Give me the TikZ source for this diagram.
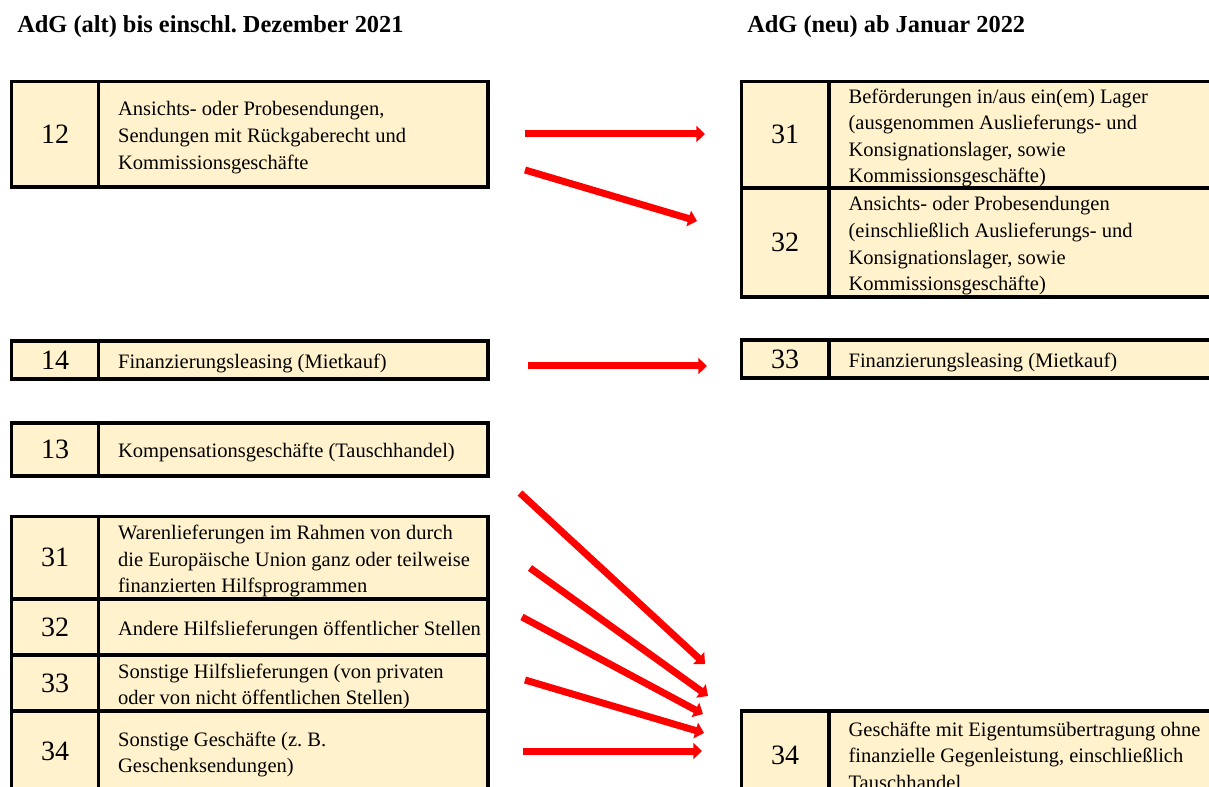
\documentclass[tikz,border=0pt]{standalone}
\usepackage{fontspec}
\setmainfont{Liberation Serif}
\usepackage{tikz}
\usetikzlibrary{arrows.meta}
\definecolor{zelle}{HTML}{FFF2CC}
\definecolor{pfeil}{HTML}{FF0000}
\frenchspacing

\begin{document}
\begin{tikzpicture}[x=0.75pt, y=-0.75pt]
	\path[use as bounding box, clip] (0,0) rectangle (1209,787);
	% Ueberschriften
	\begin{scope}[every node/.style = {anchor=west, inner sep=0pt,
			font=\bfseries\fontsize{18.3}{22}\selectfont}]
		\node (alt) at (17,27) {AdG (alt) bis einschl. Dezember 2021};
		\node (neu) at (747,27) {AdG (neu) ab Januar 2022};
	\end{scope}
	% Zellen
	\begin{scope}[every node/.style = {draw=black, line width=2.6pt, fill=zelle,
			anchor=north west, inner sep=0pt, outer sep=0pt,
			font=\fontsize{21}{25}\selectfont}]
		\node[minimum width=65.25pt, minimum height=79.1pt] (L12) at (11.5,81.5) {12};
		\node[minimum width=292.1pt, minimum height=79.1pt] (L12f) at (98.5,81.5) {};
		\node[minimum width=65.25pt, minimum height=28.5pt] (L14) at (11.5,341) {14};
		\node[minimum width=292.1pt, minimum height=28.5pt] (L14f) at (98.5,341) {};
		\node[minimum width=65.25pt, minimum height=39.75pt] (L13) at (11.5,423) {13};
		\node[minimum width=292.1pt, minimum height=39.75pt] (L13f) at (98.5,423) {};
		\node[minimum width=65.25pt, minimum height=61.9pt] (L31) at (11.5,516.5) {31};
		\node[minimum width=292.1pt, minimum height=61.9pt] (L31f) at (98.5,516.5) {};
		\node[minimum width=65.25pt, minimum height=42pt] (L32) at (11.5,599) {32};
		\node[minimum width=292.1pt, minimum height=42pt] (L32f) at (98.5,599) {};
		\node[minimum width=65.25pt, minimum height=42pt] (L33) at (11.5,655) {33};
		\node[minimum width=292.1pt, minimum height=42pt] (L33f) at (98.5,655) {};
		\node[minimum width=65.25pt, minimum height=60pt] (L34) at (11.5,711) {34};
		\node[minimum width=292.1pt, minimum height=60pt] (L34f) at (98.5,711) {};
		\node[minimum width=65.6pt, minimum height=79.9pt] (R31) at (741.5,81.5) {31};
		\node[minimum width=300.75pt, minimum height=79.9pt] (R31f) at (829,81.5) {};
		\node[minimum width=65.6pt, minimum height=81.75pt] (R32) at (741.5,188) {32};
		\node[minimum width=300.75pt, minimum height=81.75pt] (R32f) at (829,188) {};
		\node[minimum width=65.6pt, minimum height=28.5pt] (R33) at (741.5,340) {33};
		\node[minimum width=300.75pt, minimum height=28.5pt] (R33f) at (829,340) {};
		\node[minimum width=65.6pt, minimum height=66.75pt] (R34) at (741.5,711) {34};
		\node[minimum width=300.75pt, minimum height=66.75pt] (R34f) at (829,711) {};
	\end{scope}
	% Texte
	\begin{scope}[every node/.style = {anchor=west, align=left, inner sep=0pt,
			xshift=14.5pt, yshift=-2.5pt, font=\fontsize{15.4}{19.9}\selectfont}]
		\node (L12t) at (L12f.west) {Ansichts- oder Probesendungen,\\Sendungen mit Rückgaberecht und\\Kommissionsgeschäfte};
		\node (L14t) at (L14f.west) {Finanzierungsleasing (Mietkauf)};
		\node (L13t) at (L13f.west) {Kompensationsgeschäfte (Tauschhandel)};
		\node (L31t) at (L31f.west) {Warenlieferungen im Rahmen von durch\\die Europäische Union ganz oder teilweise\\finanzierten Hilfsprogrammen};
		\node (L32t) at (L32f.west) {Andere Hilfslieferungen öffentlicher Stellen};
		\node (L33t) at (L33f.west) {Sonstige Hilfslieferungen (von privaten\\oder von nicht öffentlichen Stellen)};
		\node (L34t) at (L34f.west) {Sonstige Geschäfte (z. B.\\Geschenksendungen)};
		\node (R31t) at (R31f.west) {Beförderungen in/aus ein(em) Lager\\(ausgenommen Auslieferungs- und\\Konsignationslager, sowie\\Kommissionsgeschäfte)};
		\node (R32t) at (R32f.west) {Ansichts- oder Probesendungen\\(einschließlich Auslieferungs- und\\Konsignationslager, sowie\\Kommissionsgeschäfte)};
		\node (R33t) at (R33f.west) {Finanzierungsleasing (Mietkauf)};
		\node[yshift=2.5pt] (R34t) at (R34f.west) {Geschäfte mit Eigentumsübertragung ohne\\finanzielle Gegenleistung, einschließlich\\Tauschhandel};
	\end{scope}
	% Pfeile
	\coordinate (von12a) at (525,134);  \coordinate (nach31) at (705,134);
	\coordinate (von12b) at (525,170);  \coordinate (nach32) at (697,221);
	\coordinate (von14) at (528,366);   \coordinate (nach33) at (707,366);
	\coordinate (von13) at (520,493);   \coordinate (nach34a) at (705,664);
	\coordinate (von31) at (530,568);   \coordinate (nach34b) at (708,696);
	\coordinate (von32) at (522,617);   \coordinate (nach34c) at (703,714);
	\coordinate (von33) at (525,680);   \coordinate (nach34d) at (704,733);
	\coordinate (von34) at (523,751);   \coordinate (nach34e) at (702,751);
	\begin{scope}[>={Triangle[length=6.5pt, width=12pt]},
			every edge/.style={draw=pfeil, line width=5.25pt}]
		\path [->] (von12a) edge (nach31);
		\path [->] (von12b) edge (nach32);
		\path [->] (von14) edge (nach33);
		\path [->] (von13) edge (nach34a);
		\path [->] (von31) edge (nach34b);
		\path [->] (von32) edge (nach34c);
		\path [->] (von33) edge (nach34d);
		\path [->] (von34) edge (nach34e);
	\end{scope}
\end{tikzpicture}
\end{document}
